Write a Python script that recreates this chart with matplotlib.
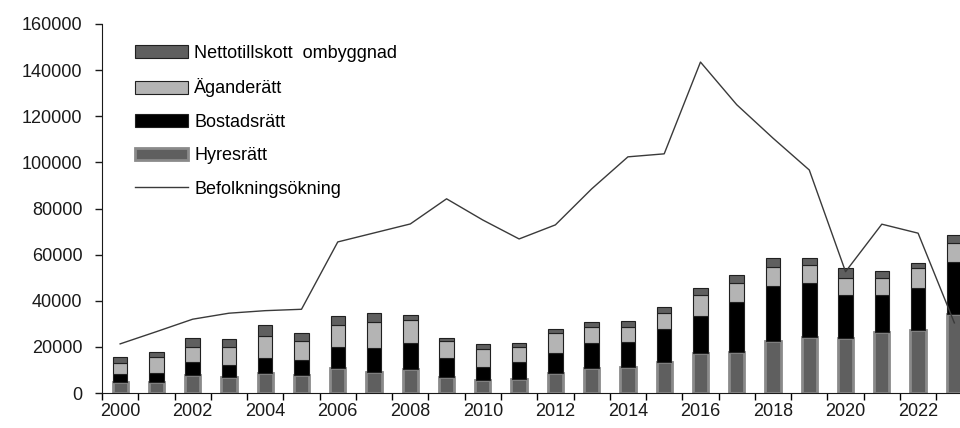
import numpy as np
import matplotlib
matplotlib.use("Agg")
import matplotlib.pyplot as plt

plt.rcParams['font.family'] = ['Liberation Sans', 'DejaVu Sans']

# data
years = list(range(2000, 2024))
hyresratt = [4900, 4900, 7800, 6800, 8500, 7900, 10700, 9000, 10300, 6800, 5600, 6200,
             8500, 11000, 11400, 13600, 17200, 17900, 22700, 24200, 23700, 26300, 27200, 34100]
bostadsratt = [3300, 3600, 5800, 5300, 6800, 6300, 9400, 10700, 11300, 8500, 5800, 7400,
               9000, 10600, 10700, 14000, 16300, 21700, 23800, 23400, 18800, 16200, 18200, 22900]
aganderatt = [4700, 7000, 6200, 7700, 9600, 8500, 9400, 11000, 10100, 7400, 7800, 6400,
              8400, 7200, 6700, 7000, 8900, 8200, 8000, 7900, 7500, 7500, 8700, 7900]
netto_ombyggnad = [2800, 2400, 4200, 3500, 4700, 3500, 3900, 3900, 2300, 1300, 2100, 1700,
                   2000, 1900, 2400, 2800, 3300, 3400, 3900, 2900, 4100, 2900, 2200, 3600]
befolkning = [21300, 26600, 32000, 34600, 35700, 36300, 65500, 69400, 73300, 84200, 75000, 66800,
              72900, 88500, 102400, 103700, 143500, 125000, 110500, 96700, 52600, 73200, 69300, 30400]

x = np.arange(len(years))
h = np.array(hyresratt)
b = np.array(bostadsratt)
a = np.array(aganderatt)
n = np.array(netto_ombyggnad)

fig = plt.figure(figsize=(9.6, 4.28), dpi=100)
ax = fig.add_axes([102/960, 35/428, 870.5/960, 369/428])

w = 0.40
ax.bar(x, h, width=0.42, color='#5f5f5f', edgecolor='#8a8a8a', linewidth=2.0,
       label='Hyresrätt', zorder=2)
ax.bar(x, b, width=w, bottom=h, color='black', edgecolor='#202020', linewidth=0.8,
       label='Bostadsrätt', zorder=2)
ax.bar(x, a, width=w, bottom=h + b, color='#b4b4b4', edgecolor='#202020', linewidth=0.8,
       label='Äganderätt', zorder=2)
ax.bar(x, n, width=w, bottom=h + b + a, color='#5f5f5f', edgecolor='#202020', linewidth=0.8,
       label='Nettotillskott  ombyggnad', zorder=2)
ax.plot(x, befolkning, color='#3a3a3a', linewidth=1.0, label='Befolkningsökning', zorder=3)

ax.set_xlim(-0.5, len(years) - 0.5)
ax.set_ylim(0, 160000)
ax.set_yticks(np.arange(0, 160001, 20000))
ax.set_yticklabels([str(v) for v in range(0, 160001, 20000)])

# labels under every other bar, tick marks between the bars
ax.set_xticks(x[::2])
ax.set_xticklabels([str(y) for y in years[::2]])
ax.set_xticks(np.arange(-0.5, len(years), 1), minor=True)
ax.tick_params(axis='x', which='major', length=0, pad=7)
ax.tick_params(axis='x', which='minor', length=5, width=1, direction='out')
ax.tick_params(axis='y', length=5, width=1, direction='out', pad=9)
ax.tick_params(labelsize=13, colors='#1a1a1a')

for s in ['top', 'right']:
    ax.spines[s].set_visible(False)
ax.spines['left'].set_color('#1a1a1a')
ax.spines['bottom'].set_color('#1a1a1a')

handles, labels = ax.get_legend_handles_labels()
order = ['Nettotillskott  ombyggnad', 'Äganderätt', 'Bostadsrätt', 'Hyresrätt', 'Befolkningsökning']
hl = dict(zip(labels, handles))
ax.legend([hl[k] for k in order], order, loc='upper left', bbox_to_anchor=(0.038, 0.943),
          frameon=False, fontsize=13, handlelength=2.95, handleheight=0.72,
          handletextpad=0.33, labelspacing=0.91, borderpad=0, borderaxespad=0)

fig.savefig('out.png', dpi=100)
